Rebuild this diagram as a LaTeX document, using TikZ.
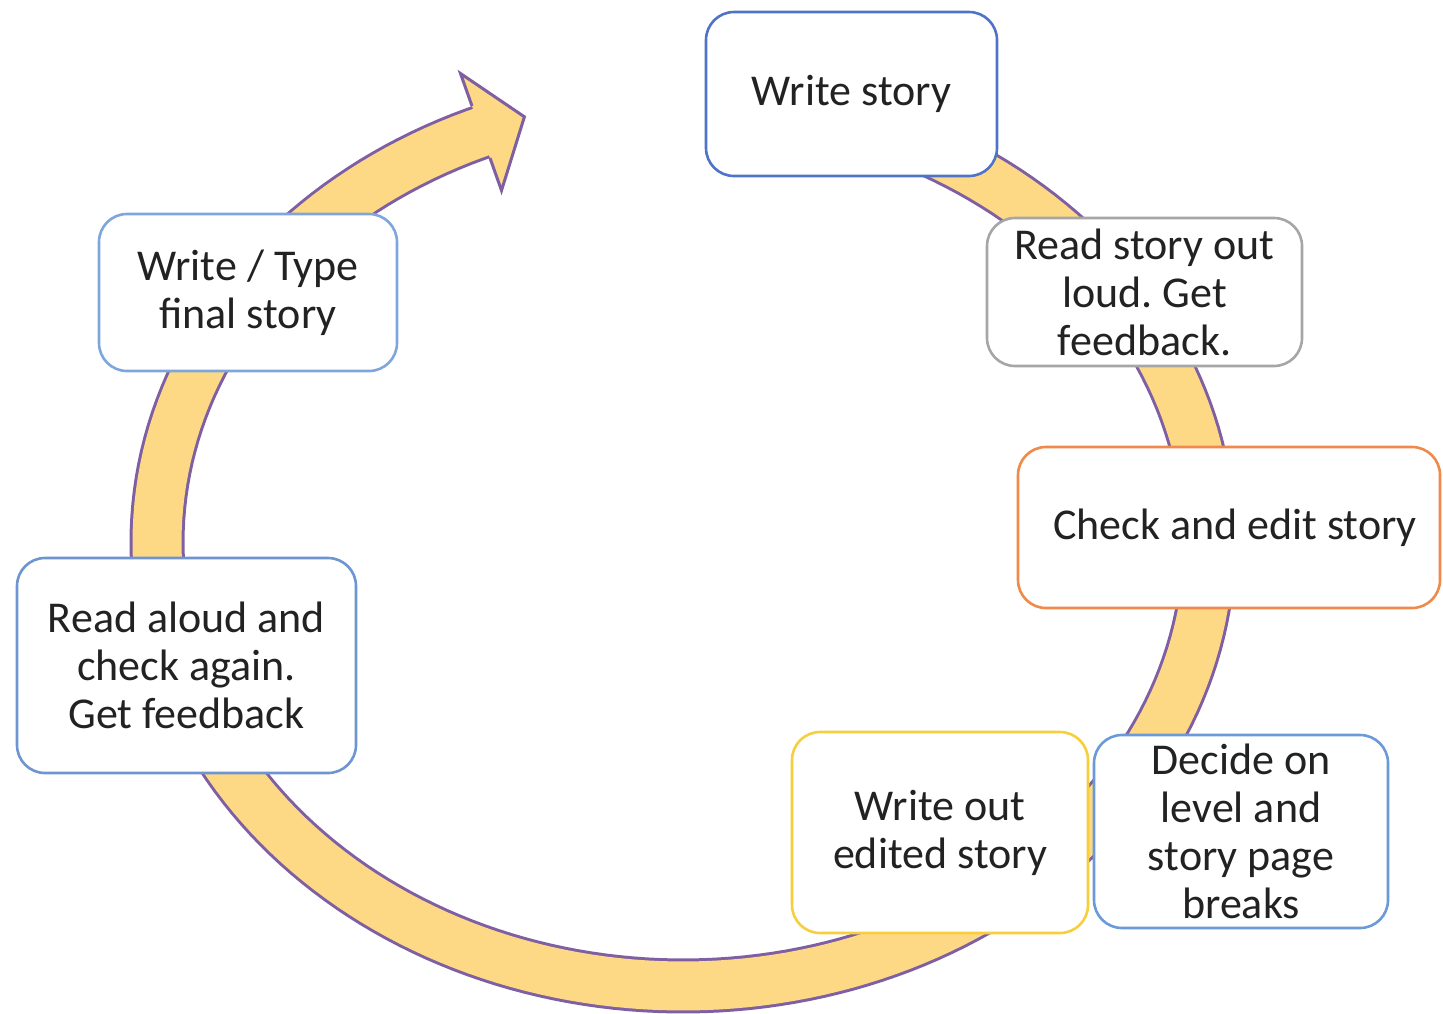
\documentclass[tikz,border=0pt]{standalone}
\usepackage{fontspec}
\setmainfont{Carlito}
\frenchspacing
\definecolor{bandfill}{HTML}{FDD985}
\definecolor{bandline}{HTML}{7E5FA4}
\definecolor{cwrite}{HTML}{4E73C8}
\definecolor{cgray}{HTML}{A6A6A6}
\definecolor{corange}{HTML}{F08A4B}
\definecolor{cdecide}{HTML}{6A9AD8}
\definecolor{cgold}{HTML}{F7CF3C}
\definecolor{caloud}{HTML}{6E94D2}
\definecolor{ctype}{HTML}{7EA6DC}
\definecolor{ctext}{HTML}{222222}
\begin{document}
\begin{tikzpicture}[x=0.5pt,y=-0.5pt,
  stepbox/.style={draw, line width=1.3pt, rounded corners=14pt, fill=white,
    align=center, inner sep=0pt, text=ctext,
    font=\fontsize{22pt}{24pt}\selectfont},
  bandstyle/.style={line width=1.5pt, draw=bandline, double=bandfill,
    double distance=24.5pt, line cap=butt}]
\useasboundingbox (0,0) rectangle (1443,1013);
% circular band
\draw[bandstyle]
  plot[domain=-68:248.3, samples=200, variable=\t]
  ({683+526*cos(\t)},{542+444*sin(\t)});
% arrow head
\coordinate (jo) at (472,106);
\coordinate (bo) at (460.5,73.5);
\coordinate (tip) at (524.4,116.8);
\coordinate (bi) at (501.5,190.5);
\coordinate (ji) at (490,158);
\fill[bandfill] (jo) -- (bo) -- (tip) -- (bi) -- (ji) -- cycle;
\draw[bandline, line width=1.5pt, line join=miter] (jo) -- (bo) -- (tip) -- (bi) -- (ji);
% boxes
\node[stepbox, draw=cwrite, minimum width=145.5pt, minimum height=82pt] (ws) at (851.5,94) {Write story};
\node[stepbox, draw=cgray, minimum width=157.5pt, minimum height=74pt] (rs) at (1144.5,292) {Read story out\\loud. Get\\feedback.};
\node[stepbox, draw=corange, minimum width=211pt, minimum height=80.5pt] (ce) at (1229,527.5) {\hspace*{6pt}Check and edit story};
\node[stepbox, draw=cdecide, minimum width=147pt, minimum height=96.5pt] (dc) at (1241,831.5) {Decide on\\level and\\story page\\breaks};
\node[stepbox, draw=cgold, minimum width=148pt, minimum height=100.5pt] (wo) at (940,832.5) {Write out\\edited story};
\node[stepbox, draw=caloud, minimum width=169.5pt, minimum height=107.5pt] (ra) at (186.5,665.5) {Read aloud and\\check again.\\Get feedback};
\node[stepbox, draw=ctype, minimum width=149pt, minimum height=78.5pt] (wt) at (248,292.5) {Write / Type\\final story};
\end{tikzpicture}
\end{document}
